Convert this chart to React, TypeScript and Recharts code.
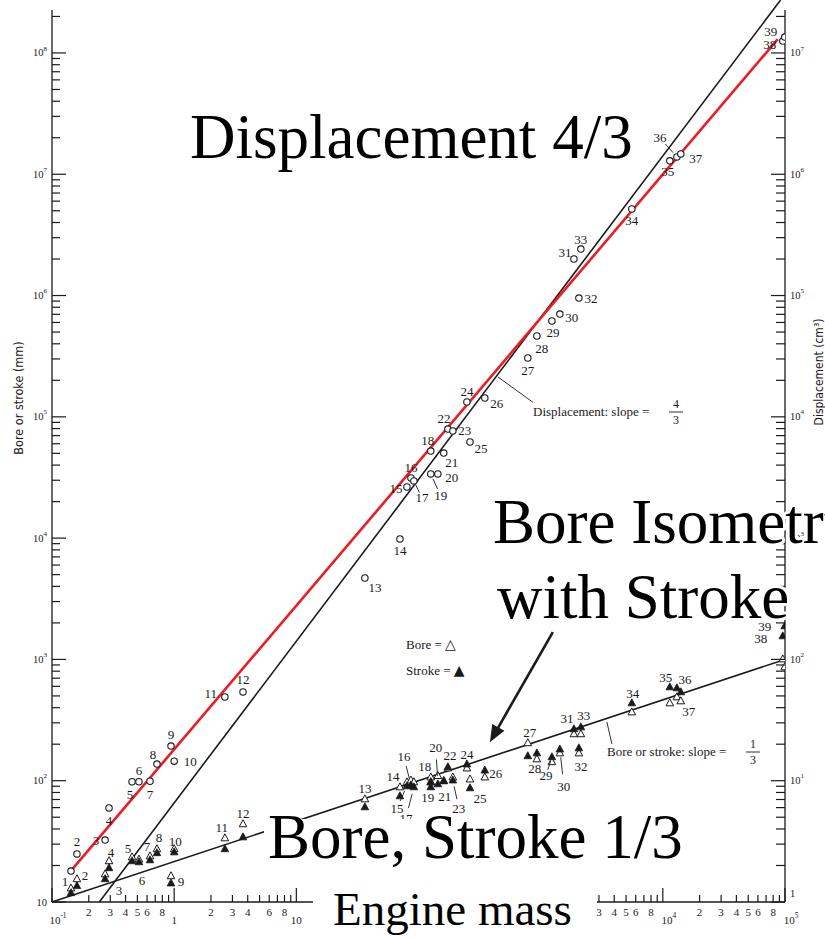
import React from 'react';
import { ComposedChart, Scatter, XAxis, YAxis, ReferenceLine } from 'recharts';

const INK = '#1a1a1a';
const RED = '#ec1c24';
const SERIF = '"Liberation Serif", "Times New Roman", serif';
const NARROW = '"Liberation Sans Narrow", "DejaVu Sans Condensed", "Liberation Sans", sans-serif';

// ---------- data ----------
const engineIds = [1, 2, 3, 4, 5, 6, 7, 8, 9, 10, 11, 12, 13, 14, 15, 16, 17, 18, 19, 20, 21, 22, 23, 24, 25, 26, 27, 28, 29, 30, 31, 32, 33, 34, 35, 36, 37, 38, 39];
// engine mass (x axis, log)
const engineMass = [0.143, 0.16, 0.272, 0.293, 0.452, 0.515, 0.634, 0.723, 0.942, 1.0, 2.6, 3.66, 36.4, 70.5, 80.4, 86.7, 91.7, 126, 126, 144, 161, 174, 191, 249, 264, 349, 785, 931, 1236, 1436, 1871, 2055, 2133, 5572, 11400, 13030, 14030, 95900, 99500];
// displacement, cm^3 (right axis)
const displacementCm3 = [1.8, 2.49, 3.24, 5.96, 9.8, 9.8, 9.9, 13.7, 19.3, 14.5, 49, 53.9, 469, 984, 2640, 3130, 2960, 5220, 3380, 3380, 5030, 7930, 7640, 13250, 6200, 14290, 30540, 46370, 61660, 70330, 200000, 95300, 241700, 516800, 1290000, 1390000, 1470000, 12540000, 13520000];
// bore, mm (left axis, open triangles)
const boreMm = [13.0, 15.5, 17.0, 21.8, 23.5, 22.5, 23.9, 27.4, 16.4, 27.4, 33.7, 44.0, 70.6, 88.7, 97.6, 101, 97.6, 107, 97.6, 110, 100, 127, 107, 127, 103, 107, 205, 151, 143, 169, 243, 169, 243, 368, 437, 490, 454, 1007, 866];
// stroke, mm (left axis, filled triangles)
const strokeMm = [11.9, 13.6, 15.5, 19.1, 21.8, 21.4, 22.2, 25.4, 14.3, 25.8, 27.4, 34.3, 60.7, 74.8, 90.4, 92.2, 88.7, 97.6, 88.7, 94, 99.4, 130, 101, 137, 87.1, 122, 160, 169, 157, 182, 267, 186, 277, 437, 592, 581, 539, 1560, 1885];

// fitted lines (end points)
const displacementFitBlack = [{ x: 0.244, y: 1 }, { x: 92000, y: 2.73e7 }]; // cm^3
const displacementFitRed = [{ x: 0.1404, y: 1.77 }, { x: 87300, y: 1.3e7 }]; // cm^3
const boreStrokeFit = [{ x: 0.1, y: 10 }, { x: 100000, y: 1000 }]; // mm

// annotation segments (data coordinates, mm)
const arrowSegment = [{ x: 1258, y: 1682 }, { x: 384, y: 208 }];
const dispNoteLeader = [{ x: 447, y: 213000 }, { x: 863, y: 132000 }];
const boreNoteLeader = [{ x: 3483, y: 305 }, { x: 3828, y: 201 }];

// axis ticks and labels
const xTicks = [0.1, 0.2, 0.3, 0.4, 0.5, 0.6, 0.7, 0.8, 0.9, 1, 2, 3, 4, 5, 6, 7, 8, 9, 10,
  3000, 4000, 5000, 6000, 7000, 8000, 9000, 10000, 20000, 30000, 40000, 50000, 60000, 70000, 80000, 90000, 100000];
const xTickLabels = ['10^-1', '2', '3', '4', '5', '6', '', '8', '', '1', '2', '3', '4', '', '6', '', '8', '', '10',
  '3', '4', '5', '6', '', '8', '', '10^4', '2', '3', '4', '5', '6', '', '8', '', '10^5'];
const leftMajorTicks = [10, 100, 1000, 10000, 100000, 1000000, 10000000, 100000000];
const leftMajorLabels = ['10', '10^2', '10^3', '10^4', '10^5', '10^6', '10^7', '10^8'];
const rightMajorTicks = [1, 10, 100, 1000, 10000, 100000, 1000000, 10000000];
const rightMajorLabels = ['1', '10^1', '10^2', '10^3', '10^4', '10^5', '10^6', '10^7'];

const decadeTicks = (from: number, to: number, max: number) => {
  const out: number[] = [];
  for (let e = from; e <= to; e++) for (let d = 1; d <= 9; d++) { const v = d * Math.pow(10, e); if (v <= max) out.push(v); }
  return out;
};
const leftTicks = decadeTicks(1, 8, 2.2e8);
const rightTicks = decadeTicks(0, 7, 2.2e7);

// label placement (px offsets from the mark)
const dispLabelOffset: Record<number, [number, number]> = {
  2: [0, -12], 3: [-9, 0], 4: [0, 13], 5: [-2, 13], 6: [0, -11], 7: [0, 13], 8: [-4, -10], 9: [0, -12], 10: [16, 0],
  11: [-14, -3], 12: [0, -12], 13: [10, 9], 14: [0, 12], 15: [-11, 2], 16: [0, -11], 17: [8, 17], 18: [-3, -11],
  19: [10, 22], 20: [14, 4], 21: [8, 9], 22: [-4, -11], 23: [12, -1], 24: [0, -11], 25: [11, 6], 26: [12, 5],
  27: [0, 12], 28: [5, 12], 29: [1, 11], 30: [12, 3], 31: [-9, -7], 32: [12, 0], 33: [0, -10], 34: [0, 11],
  35: [-2, 11], 36: [-17, -19], 37: [15, 5], 38: [-13, 3], 39: [-14, -6],
};
const dispLeaders = [17, 19, 36];
const strokeLabelOffset: Record<number, [number, number]> = {
  1: [-6, -11], 2: [8, -10], 3: [14, 12], 4: [2, -15], 5: [-4, -12], 6: [3, 19], 7: [-3, -13], 8: [2, -15], 9: [10, -2],
  10: [1, -11], 11: [-3, -21], 12: [0, -24], 13: [0, -19], 14: [-7, -20], 15: [-10, 22], 16: [-7, -28], 17: [-8, 31],
  18: [-6, -15], 19: [-3, 10], 20: [-2, -36], 21: [1, 15], 22: [2, -11], 23: [6, 28], 24: [0, -10], 25: [10, 11],
  26: [11, 3], 27: [2, -23], 28: [-2, 15], 29: [-6, 19], 30: [4, 37], 31: [-7, -10], 32: [2, 18], 33: [3, -12],
  34: [1, -10], 35: [-4, -10], 36: [8, -9], 37: [8, 20], 38: [-22, 3], 39: [-20, 0],
};
const strokeLeaders = [15, 16, 17, 20, 23, 29, 30];

const dispRows = engineIds.map((n, i) => ({ m: engineMass[i], y: displacementCm3[i], n }));
const boreRows = engineIds.map((n, i) => ({ m: engineMass[i], y: boreMm[i], n }));
const strokeRows = engineIds.map((n, i) => ({ m: engineMass[i], y: strokeMm[i], n }));

// ---------- helpers ----------
const near = (a: number, b: number) => Math.abs(a - b) <= Math.abs(b) * 1e-6;
const isPow10 = (v: number) => Math.abs(Math.log10(v) - Math.round(Math.log10(v))) < 1e-9;

function SupText({ x, y, anchor, label, size }: any) {
  const [base, exp] = String(label).split('^');
  return (
    <text x={x} y={y} textAnchor={anchor} dominantBaseline="central" fontFamily={SERIF} fontSize={size} fill={INK}>
      {base}
      {exp ? <tspan fontSize={size * 0.68} dy={-size * 0.42}>{exp}</tspan> : null}
    </text>
  );
}

const XTick = (props: any) => {
  const { x, y, payload } = props;
  const i = xTicks.findIndex((t) => near(payload.value, t));
  if (i < 0) return <g />;
  const v = xTicks[i];
  const major = isPow10(v);
  const label = xTickLabels[i];
  const dx = label.includes('^') ? 6 : 0;
  return (
    <g>
      <line x1={x} x2={x} y1={y} y2={y - (major ? 14 : 7)} stroke={INK} strokeWidth={1.2} />
      {label ? <SupText x={x + dx} y={y + (major ? 18 : 10)} anchor="middle" label={label} size={11} /> : null}
    </g>
  );
};

const LeftTick = (props: any) => {
  const { x, y, payload } = props;
  const mi = leftMajorTicks.findIndex((t) => near(payload.value, t));
  const major = mi >= 0;
  return (
    <g>
      <line x1={x} x2={x + (major ? 14 : 8)} y1={y} y2={y} stroke={INK} strokeWidth={1.2} />
      {major ? <SupText x={x - 5} y={y} anchor="end" label={leftMajorLabels[mi]} size={10.5} /> : null}
    </g>
  );
};

const RightTick = (props: any) => {
  const { x, y, payload } = props;
  const mi = rightMajorTicks.findIndex((t) => near(payload.value, t));
  const major = mi >= 0;
  return (
    <g>
      <line x1={x} x2={x - (major ? 14 : 9)} y1={y} y2={y} stroke={INK} strokeWidth={1.2} />
      {major ? <SupText x={x + 5} y={mi === 0 ? y - 9 : y} anchor="start" label={rightMajorLabels[mi]} size={10.5} /> : null}
    </g>
  );
};

function makeShape(kind: 'circle' | 'open' | 'filled', offsets: Record<number, [number, number]> | null, leaders: number[]) {
  return (props: any) => {
    const { cx, cy, payload } = props;
    if (cx == null || cy == null) return <g />;
    const n = payload.n;
    let mark;
    if (kind === 'circle') mark = <circle cx={cx} cy={cy} r={3.2} fill="#fff" stroke={INK} strokeWidth={1.1} />;
    else mark = (
      <polygon
        points={`${cx},${cy - 4.2} ${cx - 3.8},${cy + 2.8} ${cx + 3.8},${cy + 2.8}`}
        fill={kind === 'open' ? '#fff' : INK}
        stroke={INK}
        strokeWidth={kind === 'open' ? 1 : 0.8}
      />
    );
    const off = offsets ? offsets[n] : null;
    return (
      <g>
        {off && leaders.includes(n) ? (
          <line x1={cx + off[0] * 0.22} y1={cy + off[1] * 0.22} x2={cx + off[0] * 0.68} y2={cy + off[1] * 0.68} stroke={INK} strokeWidth={0.9} />
        ) : null}
        {mark}
        {off ? (
          <text x={cx + off[0]} y={cy + off[1]} textAnchor="middle" dominantBaseline="central" fontFamily={SERIF} fontSize={13} fill={INK}>
            {n}
          </text>
        ) : null}
      </g>
    );
  };
}

const CircleShape = makeShape('circle', dispLabelOffset, dispLeaders);
const BoreShape = makeShape('open', null, []);
const StrokeShape = makeShape('filled', strokeLabelOffset, strokeLeaders);

const ArrowShape = (props: any) => {
  const { x1, y1, x2, y2 } = props;
  if (x1 == null || x2 == null) return <g />;
  const dx = x2 - x1, dy = y2 - y1;
  const L = Math.hypot(dx, dy) || 1;
  const ux = dx / L, uy = dy / L;
  const hl = 17, hw = 7;
  const bx = x2 - ux * hl, by = y2 - uy * hl;
  const px = -uy, py = ux;
  return (
    <g>
      <line x1={x1} y1={y1} x2={bx + ux * 2} y2={by + uy * 2} stroke={INK} strokeWidth={2.6} />
      <polygon points={`${x2},${y2} ${bx + px * hw},${by + py * hw} ${bx - px * hw},${by - py * hw}`} fill={INK} />
    </g>
  );
};

const halo = { stroke: '#fff', strokeWidth: 6, paintOrder: 'stroke' as const, strokeLinejoin: 'round' as const };

export default function App() {
  return (
    <div style={{ position: 'absolute', left: 0, top: 0, width: 825, height: 937, background: '#fff', overflow: 'hidden' }}>
      <ComposedChart width={825} height={937} margin={{ top: 10, right: 0, bottom: 0, left: 0 }}>
        <XAxis
          type="number" dataKey="m" scale="log" domain={[0.1, 100000]} allowDataOverflow
          ticks={xTicks} interval={0} tick={XTick} tickLine={false} tickSize={0} tickMargin={0}
          height={35} axisLine={{ stroke: INK, strokeWidth: 1.3 }}
        />
        <YAxis
          yAxisId="L" orientation="left" type="number" dataKey="y" scale="log" domain={[10, 2.26e8]} allowDataOverflow
          ticks={leftTicks} interval={0} tick={LeftTick} tickLine={false} tickSize={0} tickMargin={0}
          width={52} axisLine={{ stroke: INK, strokeWidth: 1.3 }}
        />
        <YAxis
          yAxisId="R" orientation="right" type="number" dataKey="y" scale="log" domain={[1, 2.26e7]} allowDataOverflow
          ticks={rightTicks} interval={0} tick={RightTick} tickLine={false} tickSize={0} tickMargin={0}
          width={40} axisLine={{ stroke: INK, strokeWidth: 1.3 }}
        />
        <ReferenceLine yAxisId="R" segment={displacementFitBlack} stroke={INK} strokeWidth={1.6} ifOverflow="visible" />
        <ReferenceLine yAxisId="R" segment={displacementFitRed} stroke={RED} strokeWidth={2.6} ifOverflow="visible" />
        <ReferenceLine yAxisId="L" segment={boreStrokeFit} stroke={INK} strokeWidth={1.6} ifOverflow="visible" />
        <ReferenceLine yAxisId="L" segment={dispNoteLeader} stroke={INK} strokeWidth={0.9} ifOverflow="visible" />
        <ReferenceLine yAxisId="L" segment={boreNoteLeader} stroke={INK} strokeWidth={0.9} ifOverflow="visible" />
        <ReferenceLine yAxisId="L" segment={arrowSegment} ifOverflow="visible" shape={ArrowShape} />
        <Scatter yAxisId="R" data={dispRows} shape={CircleShape} isAnimationActive={false} />
        <Scatter yAxisId="L" data={boreRows} shape={BoreShape} isAnimationActive={false} />
        <Scatter yAxisId="L" data={strokeRows} shape={StrokeShape} isAnimationActive={false} />
      </ComposedChart>

      <svg width={825} height={937} style={{ position: 'absolute', left: 0, top: 0, pointerEvents: 'none' }}>
        {/* axis titles */}
        <text x={18} y={398} transform="rotate(-90 18 398)" textAnchor="middle" dominantBaseline="central" fontFamily={NARROW} fontSize={12.5} fill={INK}>
          Bore or stroke (mm)
        </text>
        <text x={819} y={372} transform="rotate(-90 819 372)" textAnchor="middle" dominantBaseline="central" fontFamily={NARROW} fontSize={12} fill={INK}>
          Displacement (cm³)
        </text>

        {/* slope notes */}
        <text x={533} y={416} fontFamily={SERIF} fontSize={13} fill={INK}>Displacement: slope =</text>
        <text x={676} y={408} textAnchor="middle" fontFamily={SERIF} fontSize={12} fill={INK}>4</text>
        <line x1={669} x2={683} y1={412} y2={412} stroke={INK} strokeWidth={0.9} />
        <text x={676} y={424} textAnchor="middle" fontFamily={SERIF} fontSize={12} fill={INK}>3</text>

        <text x={607} y={756} fontFamily={SERIF} fontSize={13} fill={INK}>Bore or stroke: slope =</text>
        <text x={753} y={748} textAnchor="middle" fontFamily={SERIF} fontSize={12} fill={INK}>1</text>
        <line x1={746} x2={760} y1={752} y2={752} stroke={INK} strokeWidth={0.9} />
        <text x={753} y={764} textAnchor="middle" fontFamily={SERIF} fontSize={12} fill={INK}>3</text>

        {/* legend */}
        <text x={406} y={649} fontFamily={SERIF} fontSize={13} fill={INK}>Bore = <tspan fontFamily='"DejaVu Sans", sans-serif' fontSize={14}>△</tspan></text>
        <text x={406} y={675} fontFamily={SERIF} fontSize={13} fill={INK}>Stroke = <tspan fontFamily='"DejaVu Sans", sans-serif' fontSize={14}>▲</tspan></text>

        {/* overlay captions */}
        <text x={190} y={158} fontFamily={SERIF} fontSize={63} fill="#000" {...halo}>Displacement 4/3</text>
        <text x={493} y={543} fontFamily={SERIF} fontSize={63} fill="#000" {...halo}>Bore Isometry</text>
        <text x={497} y={618} fontFamily={SERIF} fontSize={63} fill="#000" {...halo}>with Stroke</text>
        <rect x={264} y={819} width={426} height={54} fill="#fff" />
        <text x={268} y={858} fontFamily={SERIF} fontSize={63} fill="#000">Bore, Stroke 1/3</text>
        <rect x={313} y={884} width={284} height={53} fill="#fff" />
        <text x={333} y={925} fontFamily={SERIF} fontSize={47} fill="#000">Engine mass</text>
      </svg>
    </div>
  );
}
